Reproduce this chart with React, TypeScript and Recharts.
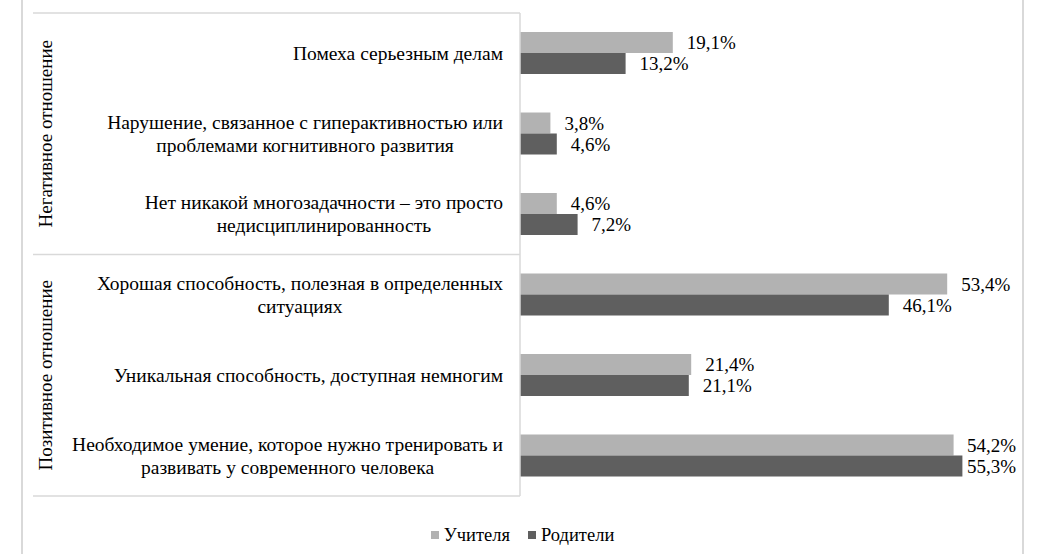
import React from 'react';
import { BarChart, Bar, XAxis, YAxis, LabelList } from 'recharts';

// categories, top to bottom; "\n" marks where the label wraps in the picture
const categories = [
  'Помеха серьезным делам',
  'Нарушение, связанное с гиперактивностью или\nпроблемами когнитивного развития',
  'Нет никакой многозадачности – это просто\nнедисциплинированность',
  'Хорошая способность, полезная в определенных\nситуациях',
  'Уникальная способность, доступная немногим',
  'Необходимое умение, которое нужно тренировать и\nразвивать у современного человека',
];
const teachers = [19.1, 3.8, 4.6, 53.4, 21.4, 54.2];
const parents = [13.2, 4.6, 7.2, 46.1, 21.1, 55.3];

const groups = ['Негативное отношение', 'Позитивное отношение'];
const groupSizes = [3, 3];

const seriesNames = ['Учителя', 'Родители'];
const seriesColors = ['#b2b2b2', '#5f5f5f'];

const data = categories.map((name, i) => ({ name, teachers: teachers[i], parents: parents[i] }));

const W = 1056;
const H = 554;
const FONT = '"Liberation Serif", "Times New Roman", serif';
const FS = 19;
const CAT_FS = 19.5;
const GRID = '#d9d9d9';
const MARGIN = { top: 13, right: 56, bottom: 58, left: 0 };
const AXIS_W = 520;
const LABEL_LIMIT = 1016; // labels are kept inside the chart frame

let ctx: CanvasRenderingContext2D | null = null;
const measure = (s: string, size: number) => {
  if (!ctx) ctx = document.createElement('canvas').getContext('2d');
  if (!ctx) return s.length * size * 0.48;
  ctx.font = `${size}px "Liberation Serif"`;
  return ctx.measureText(s).width;
};

// multi-line label, lines centred on each other, block right-aligned to the axis
const CategoryTick = (props: any) => {
  const { y, payload } = props;
  const lines = String(payload.value).split('\n');
  const w = Math.max(...lines.map((l) => measure(l, CAT_FS)));
  const right = AXIS_W - 17;
  const cx = right - w / 2;
  const lh = 23;
  const y0 = y - ((lines.length - 1) * lh) / 2 + CAT_FS * 0.33;
  return (
    <text x={cx} y={y0} textAnchor="middle" fontFamily={FONT} fontSize={CAT_FS} fill="#000">
      {lines.map((l, i) => (
        <tspan key={i} x={cx} y={y0 + i * lh}>
          {l}
        </tspan>
      ))}
    </text>
  );
};

const fmt = (v: any) => `${Number(v).toFixed(1).replace('.', ',')}%`;

// value label at the bar end, pushed back left if it would leave the frame
const ValueLabel = (props: any) => {
  const { x, y, width, height, value } = props;
  const s = fmt(value);
  const tx = Math.min(x + width + 14, LABEL_LIMIT - measure(s, FS));
  return (
    <text x={tx} y={y + height / 2} dominantBaseline="central" fontFamily={FONT} fontSize={FS} fill="#000">
      {s}
    </text>
  );
};

export default function App() {
  const plotTop = MARGIN.top;
  const plotH = H - MARGIN.top - MARGIN.bottom;
  const band = plotH / categories.length;

  // group separators and rotated group titles
  let start = 0;
  const groupMarks = groups.map((g, gi) => {
    const y1 = plotTop + start * band;
    start += groupSizes[gi];
    const y2 = plotTop + start * band;
    return { g, y1, y2 };
  });

  return (
    <div style={{ position: 'absolute', left: 0, top: 0, width: W, height: H, overflow: 'hidden', background: '#fff' }}>
      <BarChart
        width={W}
        height={H}
        data={data}
        layout="vertical"
        margin={MARGIN}
        barSize={21}
        barGap={0}
      >
        <XAxis type="number" domain={[0, 60]} hide />
        <YAxis
          type="category"
          dataKey="name"
          width={AXIS_W}
          axisLine={{ stroke: GRID, strokeWidth: 1.5 }}
          tickLine={false}
          interval={0}
          tick={<CategoryTick />}
        />
        <Bar dataKey="teachers" name={seriesNames[0]} fill={seriesColors[0]} isAnimationActive={false}>
          <LabelList dataKey="teachers" content={<ValueLabel />} />
        </Bar>
        <Bar dataKey="parents" name={seriesNames[1]} fill={seriesColors[1]} isAnimationActive={false}>
          <LabelList dataKey="parents" content={<ValueLabel />} />
        </Bar>
      </BarChart>

      <svg width={W} height={H} style={{ position: 'absolute', left: 0, top: 0, pointerEvents: 'none' }}>
        <line x1={22} y1={0} x2={22} y2={H} stroke={GRID} strokeWidth={2} />
        <line x1={1023} y1={0} x2={1023} y2={H} stroke={GRID} strokeWidth={2} />
        {groupMarks.map(({ g, y1, y2 }, i) => (
          <g key={g}>
            {i === 0 && <line x1={33} y1={y1} x2={AXIS_W} y2={y1} stroke={GRID} strokeWidth={1.5} />}
            <line x1={33} y1={y2} x2={AXIS_W} y2={y2} stroke={GRID} strokeWidth={1.5} />
            <text
              x={45}
              y={(y1 + y2) / 2}
              transform={`rotate(-90 45 ${(y1 + y2) / 2})`}
              textAnchor="middle"
              dominantBaseline="central"
              fontFamily={FONT}
              fontSize={FS}
              fill="#000"
            >
              {g}
            </text>
          </g>
        ))}
      </svg>

      <div
        style={{
          position: 'absolute',
          left: 22,
          width: 1001,
          top: 524,
          display: 'flex',
          justifyContent: 'center',
          gap: 18,
          fontFamily: FONT,
          fontSize: 18.5,
          lineHeight: '22px',
        }}
      >
        {seriesNames.map((n, i) => (
          <div key={n} style={{ display: 'flex', alignItems: 'center', gap: 5 }}>
            <span style={{ display: 'inline-block', width: 8, height: 8, background: seriesColors[i] }} />
            <span>{n}</span>
          </div>
        ))}
      </div>
    </div>
  );
}
